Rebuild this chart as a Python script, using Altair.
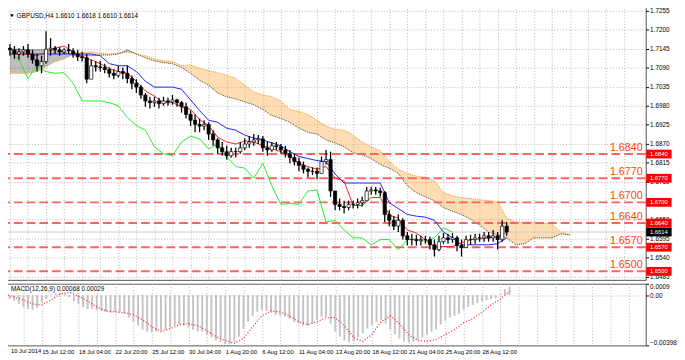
import altair as alt
import numpy as np
import pandas as pd

# ---------------- data ----------------
title_text = "GBPUSD,H4  1.6610 1.6618 1.6610 1.6614"
macd_text = "MACD(12,26,9) 0.00068 0.00029"

time_labels = ["10 Jul 2014", "15 Jul 12:00", "18 Jul 04:00", "22 Jul 20:00",
               "25 Jul 12:00", "30 Jul 04:00", "1 Aug 20:00", "6 Aug 12:00",
               "11 Aug 04:00", "13 Aug 20:00", "18 Aug 12:00", "21 Aug 04:00",
               "25 Aug 20:00", "28 Aug 12:00"]
label_every = 16      # bars between time labels
grid_every = 8        # bars between vertical grid lines

# (1.6705 is fully covered by the 1.6700 tag in the original, so it is not listed)
price_ticks = [1.7255, 1.7200, 1.7145, 1.7090, 1.7035, 1.6980, 1.6925, 1.6870,
               1.6815, 1.6760, 1.6650, 1.6595, 1.6540, 1.6485]
macd_ticks = [0.0009, 0.0, -0.00398]

levels = [1.6840, 1.6770, 1.6700, 1.6640, 1.6570, 1.6500]
last_price = 1.6614

# candles, one every 2 bars
candle_step = 2
first_open = 1.7147
candle_high = [1.7159, 1.7153, 1.7147, 1.7153, 1.7159, 1.7142, 1.7130, 1.7125, 1.7196, 1.7176,
               1.7153, 1.7150, 1.7147, 1.7159, 1.7147, 1.7142, 1.7136, 1.7130, 1.7113, 1.7108,
               1.7110, 1.7102, 1.7091, 1.7085, 1.7096, 1.7091, 1.7096, 1.7068, 1.7057, 1.7040,
               1.7017, 1.7006, 1.7006, 1.7003, 1.7006, 1.7003, 1.7011, 1.7000, 1.6994, 1.6989,
               1.6966, 1.6955, 1.6943, 1.6938, 1.6932, 1.6909, 1.6886, 1.6875, 1.6864, 1.6858,
               1.6858, 1.6875, 1.6886, 1.6892, 1.6898, 1.6895, 1.6892, 1.6875, 1.6875, 1.6875,
               1.6869, 1.6864, 1.6852, 1.6841, 1.6830, 1.6818, 1.6801, 1.6801, 1.6801, 1.6833,
               1.6852, 1.6847, 1.6733, 1.6711, 1.6705, 1.6705, 1.6705, 1.6711, 1.6716, 1.6745,
               1.6745, 1.6745, 1.6742, 1.6733, 1.6677, 1.6660, 1.6665, 1.6654, 1.6614, 1.6609,
               1.6606, 1.6603, 1.6603, 1.6600, 1.6592, 1.6603, 1.6611, 1.6609, 1.6611, 1.6603,
               1.6592, 1.6603, 1.6606, 1.6609, 1.6609, 1.6614, 1.6614, 1.6620, 1.6614, 1.6648,
               1.6643]
candle_low = [1.7125, 1.7116, 1.7113, 1.7125, 1.7119, 1.7102, 1.7079, 1.7074, 1.7102, 1.7125,
              1.7130, 1.7125, 1.7130, 1.7130, 1.7119, 1.7110, 1.7108, 1.7045, 1.7068, 1.7079,
              1.7079, 1.7074, 1.7062, 1.7057, 1.7062, 1.7057, 1.7045, 1.7028, 1.7017, 1.7000,
              1.6977, 1.6972, 1.6977, 1.6972, 1.6980, 1.6980, 1.6983, 1.6977, 1.6960, 1.6943,
              1.6921, 1.6903, 1.6903, 1.6909, 1.6881, 1.6864, 1.6841, 1.6835, 1.6824, 1.6830,
              1.6830, 1.6841, 1.6852, 1.6858, 1.6864, 1.6869, 1.6847, 1.6835, 1.6847, 1.6852,
              1.6841, 1.6830, 1.6813, 1.6807, 1.6790, 1.6784, 1.6773, 1.6779, 1.6767, 1.6784,
              1.6810, 1.6716, 1.6677, 1.6677, 1.6668, 1.6677, 1.6682, 1.6682, 1.6688, 1.6711,
              1.6722, 1.6722, 1.6716, 1.6643, 1.6631, 1.6620, 1.6614, 1.6592, 1.6575, 1.6575,
              1.6575, 1.6575, 1.6580, 1.6563, 1.6543, 1.6558, 1.6580, 1.6580, 1.6583, 1.6558,
              1.6543, 1.6569, 1.6577, 1.6580, 1.6586, 1.6586, 1.6586, 1.6586, 1.6563, 1.6586,
              1.6603]
candle_close = [1.7142, 1.7130, 1.7136, 1.7142, 1.7130, 1.7113, 1.7096, 1.7108, 1.7144, 1.7147,
                1.7142, 1.7136, 1.7142, 1.7139, 1.7130, 1.7122, 1.7119, 1.7057, 1.7096, 1.7093,
                1.7091, 1.7085, 1.7074, 1.7068, 1.7079, 1.7074, 1.7059, 1.7045, 1.7034, 1.7011,
                1.6994, 1.6989, 1.6994, 1.6986, 1.6994, 1.6991, 1.6997, 1.6989, 1.6977, 1.6955,
                1.6938, 1.6926, 1.6921, 1.6926, 1.6898, 1.6881, 1.6858, 1.6847, 1.6835, 1.6847,
                1.6847, 1.6858, 1.6869, 1.6875, 1.6881, 1.6884, 1.6858, 1.6852, 1.6864, 1.6861,
                1.6852, 1.6841, 1.6830, 1.6818, 1.6807, 1.6796, 1.6790, 1.6790, 1.6784, 1.6818,
                1.6824, 1.6733, 1.6694, 1.6688, 1.6685, 1.6694, 1.6694, 1.6699, 1.6705, 1.6733,
                1.6736, 1.6733, 1.6728, 1.6665, 1.6648, 1.6631, 1.6648, 1.6603, 1.6592, 1.6592,
                1.6589, 1.6592, 1.6592, 1.6577, 1.6563, 1.6586, 1.6597, 1.6592, 1.6597, 1.6575,
                1.6569, 1.6592, 1.6592, 1.6597, 1.6597, 1.6603, 1.6597, 1.6603, 1.6592, 1.6631,
                1.6614]

# Ichimoku lines, one value every 4 bars (positions as displayed)
line_step = 4
tenkan = [1.7130, 1.7130, 1.7130, 1.7125, 1.7136, 1.7147, 1.7153, 1.7136, 1.7122, 1.7113,
          1.7102, 1.7088, 1.7079, 1.7074, 1.7051, 1.7023, 1.7008, 1.6989, 1.6989, 1.6977,
          1.6969, 1.6940, 1.6923, 1.6889, 1.6875, 1.6869, 1.6878, 1.6875, 1.6864, 1.6855,
          1.6847, 1.6833, 1.6813, 1.6804, 1.6796, 1.6804, 1.6770, 1.6762, 1.6691, 1.6691,
          1.6714, 1.6714, 1.6663, 1.6654, 1.6620, 1.6611, 1.6592, 1.6572, 1.6572, 1.6572,
          1.6583, 1.6592, 1.6594, 1.6597, 1.6600, 1.6614]
kijun = [1.7130, 1.7130, 1.7130, 1.7130, 1.7130, 1.7130, 1.7130, 1.7130, 1.7130, 1.7130,
         1.7125, 1.7102, 1.7096, 1.7096, 1.7079, 1.7051, 1.7034, 1.7034, 1.7034, 1.7028,
         1.6997, 1.6966, 1.6938, 1.6932, 1.6915, 1.6909, 1.6895, 1.6886, 1.6881, 1.6872,
         1.6864, 1.6847, 1.6833, 1.6827, 1.6821, 1.6818, 1.6782, 1.6756, 1.6756, 1.6756,
         1.6756, 1.6756, 1.6699, 1.6682, 1.6665, 1.6660, 1.6657, 1.6648, 1.6614, 1.6597,
         1.6577, 1.6577, 1.6577, 1.6577, 1.6580, 1.6597]
chikou = [1.7136, 1.7113, 1.7059, 1.7096, 1.7079, 1.7074, 1.7076, 1.7045, 1.6994, 1.6994,
          1.6994, 1.6989, 1.6980, 1.6946, 1.6923, 1.6909, 1.6861, 1.6841, 1.6835, 1.6875,
          1.6892, 1.6884, 1.6855, 1.6869, 1.6833, 1.6804, 1.6799, 1.6770, 1.6813, 1.6748,
          1.6694, 1.6697, 1.6694, 1.6733, 1.6736, 1.6643, 1.6648, 1.6620, 1.6597, 1.6597,
          1.6577, 1.6592, 1.6592, 1.6563, 1.6592, 1.6594, 1.6586, 1.6597, 1.6626, 1.6614]
span_a = [1.7074, 1.7074, 1.7074, 1.7079, 1.7093, 1.7108, 1.7116, 1.7130, 1.7136, 1.7136,
          1.7133, 1.7130, 1.7133, 1.7136, 1.7130, 1.7125, 1.7116, 1.7110, 1.7108, 1.7096,
          1.7099, 1.7088, 1.7082, 1.7076, 1.7068, 1.7059, 1.7040, 1.7020, 1.7011, 1.7006,
          1.6994, 1.6969, 1.6963, 1.6955, 1.6938, 1.6921, 1.6912, 1.6909, 1.6895, 1.6875,
          1.6861, 1.6850, 1.6818, 1.6796, 1.6784, 1.6776, 1.6773, 1.6762, 1.6728, 1.6719,
          1.6714, 1.6711, 1.6708, 1.6705, 1.6702, 1.6654, 1.6643, 1.6643, 1.6643, 1.6640,
          1.6637, 1.6614, 1.6606]
span_b = [1.7144, 1.7144, 1.7142, 1.7142, 1.7142, 1.7139, 1.7136, 1.7127, 1.7125, 1.7125,
          1.7127, 1.7127, 1.7130, 1.7142, 1.7130, 1.7119, 1.7110, 1.7105, 1.7102, 1.7091,
          1.7074, 1.7054, 1.7040, 1.7017, 1.7006, 1.7000, 1.6991, 1.6983, 1.6969, 1.6952,
          1.6943, 1.6932, 1.6915, 1.6903, 1.6898, 1.6881, 1.6872, 1.6861, 1.6844, 1.6838,
          1.6827, 1.6810, 1.6799, 1.6784, 1.6748, 1.6728, 1.6716, 1.6705, 1.6685, 1.6674,
          1.6665, 1.6651, 1.6634, 1.6614, 1.6606, 1.6597, 1.6577, 1.6580, 1.6597, 1.6597,
          1.6597, 1.6609, 1.6606]

# MACD main (every 2 bars) and signal (every 4 bars)
macd_main = [-0.00023, -0.00031, -0.00047, -0.00070, -0.00094, -0.00109, -0.00117, -0.00101, -0.00055, -0.00031,
             0.00005, 0.00012, 0.00018, 0.00012, -0.00015, -0.00047, -0.00070, -0.00094, -0.00109, -0.00109,
             -0.00117, -0.00125, -0.00133, -0.00140, -0.00133, -0.00133, -0.00148, -0.00179, -0.00211, -0.00242,
             -0.00273, -0.00289, -0.00296, -0.00289, -0.00281, -0.00273, -0.00257, -0.00242, -0.00234, -0.00242,
             -0.00257, -0.00273, -0.00289, -0.00289, -0.00312, -0.00335, -0.00359, -0.00374, -0.00390, -0.00390,
             -0.00374, -0.00328, -0.00265, -0.00211, -0.00164, -0.00133, -0.00117, -0.00125, -0.00140, -0.00156,
             -0.00164, -0.00172, -0.00187, -0.00211, -0.00226, -0.00242, -0.00242, -0.00226, -0.00195, -0.00172,
             -0.00172, -0.00226, -0.00289, -0.00328, -0.00359, -0.00374, -0.00367, -0.00335, -0.00304, -0.00265,
             -0.00234, -0.00211, -0.00195, -0.00226, -0.00273, -0.00312, -0.00343, -0.00367, -0.00374, -0.00367,
             -0.00351, -0.00335, -0.00312, -0.00289, -0.00273, -0.00234, -0.00203, -0.00179, -0.00164, -0.00148,
             -0.00117, -0.00094, -0.00078, -0.00062, -0.00047, -0.00039, -0.00031, -0.00023, 0.00008, 0.00047,
             0.00068]
macd_signal = [0.00008, -0.00016, -0.00039, -0.00070, -0.00078, -0.00039, 0.00008, 0.00023, -0.00008, -0.00047,
               -0.00094, -0.00125, -0.00133, -0.00140, -0.00156, -0.00195, -0.00250, -0.00289, -0.00265, -0.00234,
               -0.00226, -0.00242, -0.00281, -0.00328, -0.00359, -0.00382, -0.00343, -0.00250, -0.00164, -0.00125,
               -0.00133, -0.00164, -0.00211, -0.00234, -0.00211, -0.00179, -0.00179, -0.00242, -0.00335, -0.00367,
               -0.00312, -0.00211, -0.00164, -0.00226, -0.00312, -0.00359, -0.00367, -0.00351, -0.00312, -0.00273,
               -0.00218, -0.00187, -0.00133, -0.00078, -0.00031, 0.00029]

# ---------------- frames ----------------
cdf = pd.DataFrame({"bar": [candle_step * k for k in range(len(candle_close))],
                    "high": candle_high, "low": candle_low, "close": candle_close})
cdf["open"] = [first_open] + candle_close[:-1]
cdf["dir"] = np.where(cdf["close"] >= cdf["open"], "up", "down")

def line_df(vals):
    return pd.DataFrame({"bar": [line_step * k for k in range(len(vals))], "price": vals})

kdf = pd.DataFrame({"bar": [line_step * k for k in range(len(span_a))], "a": span_a, "b": span_b})
kdf["a_low"] = np.where(kdf["a"] >= kdf["b"], kdf["b"], kdf["a"])
kdf["b_low"] = np.where(kdf["b"] > kdf["a"], kdf["a"], kdf["b"])

lvl = pd.DataFrame({"level": levels, "label": [f"{v:.4f}" for v in levels]})
lastdf = pd.DataFrame({"level": [last_price], "label": [f"{last_price:.4f}"]})

hdf = pd.DataFrame({"bar": [candle_step * k for k in range(len(macd_main))], "macd": macd_main})
hdf["zero"] = 0.0
sdf = pd.DataFrame({"bar": [line_step * k for k in range(len(macd_signal))], "sig": macd_signal})

one = pd.DataFrame({"t": [title_text], "m": [macd_text], "d0": [time_labels[0]]})

# ---------------- layout ----------------
FONT = "Liberation Sans"
W, H_TOP, H_MACD = 657, 280, 63
xs = alt.Scale(domain=[-0.85, 279.4], nice=False, zero=False)
ys = alt.Scale(domain=[1.64754, 1.72692], nice=False, zero=False)
ms = alt.Scale(domain=[-0.00398, 0.0009], nice=False, zero=False)
grid_bars = list(range(0, 280, grid_every))
GRID = "#B4B4B4"

top_x_axis = alt.Axis(values=grid_bars, grid=True, gridColor=GRID, gridDash=[1, 2],
                      labels=False, ticks=False, domain=False, title=None)
top_y_axis = alt.Axis(orient="right", values=price_ticks, grid=True, gridColor=GRID,
                      gridDash=[1, 2], format=".4f", labelFont=FONT, labelFontSize=6.5,
                      labelColor="black", tickSize=3, tickColor="black", labelPadding=1,
                      domain=False, labelOverlap=False, title=None)

arr = "[" + ",".join(f"'{s}'" for s in time_labels) + "]"
lab_expr = (f"(datum.value > 0 && datum.value % {label_every} == 0 && datum.value / {label_every} < {len(time_labels)})"
            f" ? {arr}[datum.value / {label_every}] : ''")
bot_x_axis = alt.Axis(values=grid_bars, grid=True, gridColor=GRID, gridDash=[1, 2],
                      labelExpr=lab_expr, labelAlign="left", labelFont=FONT, labelFontSize=6,
                      labelColor="black", labelPadding=3, labelBaseline="top", ticks=False,
                      domain=False, labelOverlap=False, labelFlush=False, title=None)
macd_y_axis = alt.Axis(orient="right", values=macd_ticks, grid=True, gridColor=GRID,
                       gridDash=[1, 2], labelFlush=True, labelFont=FONT, labelFontSize=6.5,
                       labelColor="black", tickSize=3, tickColor="black", labelPadding=1,
                       domain=False, labelOverlap=False, title=None,
                       labelExpr="datum.value == 0 ? '0.00' : (datum.value > 0 ? format(datum.value, '.4f') : format(datum.value, '.5f'))")

def X():
    return alt.X("bar:Q", scale=xs, axis=top_x_axis, title=None)

def Y(field):
    return alt.Y(f"{field}:Q", scale=ys, axis=top_y_axis, title=None)

def XB():
    return alt.X("bar:Q", scale=xs, axis=bot_x_axis, title=None)

def YB(field):
    return alt.Y(f"{field}:Q", scale=ms, axis=macd_y_axis, title=None)

kumo_up = alt.Chart(kdf).mark_area(color="#FFA030", opacity=0.36).encode(
    x=X(), y=Y("a"), y2="a_low:Q")
kumo_dn = alt.Chart(kdf).mark_area(color="#2A2A2A", opacity=0.3).encode(
    x=X(), y=Y("b"), y2="b_low:Q")
edge_a = alt.Chart(kdf).mark_line(color="#F39020", strokeDash=[1, 1], strokeWidth=1).encode(
    x=X(), y=Y("a"))
edge_b = alt.Chart(kdf).mark_line(color="#4A3A2A", strokeDash=[1, 1], strokeWidth=1).encode(
    x=X(), y=Y("b"))

level_rules = alt.Chart(lvl).mark_rule(color="#FF6464", strokeDash=[9, 4], strokeWidth=2).encode(
    y=Y("level"))
last_rule = alt.Chart(lastdf).mark_rule(color="#C8C8C8", strokeWidth=1).encode(y=Y("level"))

chik = alt.Chart(line_df(chikou)).mark_line(color="#22EE22", strokeWidth=1).encode(x=X(), y=Y("price"))
kij = alt.Chart(line_df(kijun)).mark_line(color="#2020FF", strokeWidth=1).encode(x=X(), y=Y("price"))
ten = alt.Chart(line_df(tenkan)).mark_line(color="#FF2020", strokeWidth=1).encode(x=X(), y=Y("price"))

wick = alt.Chart(cdf).mark_rule(color="black", strokeWidth=1.3).encode(x=X(), y=Y("low"), y2="high:Q")
body = alt.Chart(cdf).mark_bar(size=3.3, stroke="black", strokeWidth=0.7).encode(
    x=X(), y=Y("open"), y2="close:Q",
    fill=alt.Fill("dir:N", scale=alt.Scale(domain=["up", "down"], range=["white", "black"]), legend=None))

level_text = alt.Chart(lvl).mark_text(align="right", baseline="alphabetic", dy=-3, font=FONT,
                                      fontSize=11, color="#FF4500").encode(
    x=alt.value(654), y=Y("level"), text="label:N")
level_box = alt.Chart(lvl).mark_tick(color="#FF0000", thickness=9, size=26, opacity=1).encode(
    x=alt.value(670.5), y=Y("level"))
level_box_t = alt.Chart(lvl).mark_text(color="white", font=FONT, fontSize=6, align="center",
                                       baseline="middle").encode(
    x=alt.value(670.5), y=Y("level"), text="label:N")
last_box = alt.Chart(lastdf).mark_tick(color="black", thickness=9, size=26, opacity=1).encode(
    x=alt.value(670.5), y=Y("level"))
last_box_t = alt.Chart(lastdf).mark_text(color="white", font=FONT, fontSize=6, align="center",
                                         baseline="middle").encode(
    x=alt.value(670.5), y=Y("level"), text="label:N")

tri = alt.Chart(one).mark_point(shape="triangle-down", filled=True, color="black", size=14, opacity=1).encode(
    x=alt.value(9), y=alt.value(10))
title_mark = alt.Chart(one).mark_text(align="left", baseline="middle", font=FONT, fontSize=6.5,
                                      color="black").encode(
    x=alt.value(14), y=alt.value(10), text="t:N")

top = alt.layer(kumo_up, kumo_dn, edge_a, edge_b, last_rule, level_rules, chik, kij, ten,
                wick, body, level_text, level_box, level_box_t, last_box, last_box_t,
                tri, title_mark).properties(width=W, height=H_TOP)

hist = alt.Chart(hdf).mark_rule(color="#C4C4C4", strokeWidth=2).encode(
    x=XB(), y=YB("zero"), y2="macd:Q")
sig = alt.Chart(sdf).mark_line(color="#FF2020", strokeDash=[1, 2], strokeWidth=1.3).encode(
    x=XB(), y=YB("sig"))
macd_title = alt.Chart(one).mark_text(align="left", baseline="middle", font=FONT, fontSize=6.5,
                                      color="black").encode(
    x=alt.value(8), y=alt.value(5), text="m:N")
first_label = alt.Chart(one).mark_text(align="left", baseline="top", font=FONT, fontSize=6,
                                       color="black").encode(
    x=alt.value(8), y=alt.value(H_MACD + 3), text="d0:N")

bottom = alt.layer(hist, sig, macd_title, first_label).properties(width=W, height=H_MACD)

chart = alt.vconcat(top, bottom, spacing=2).properties(
    padding={"left": -7, "top": -7, "right": 0, "bottom": 0},
    background="white",
).configure_view(stroke="#505050", strokeWidth=1)

chart.save("out.html", embed_options={"renderer": "svg", "actions": False})
